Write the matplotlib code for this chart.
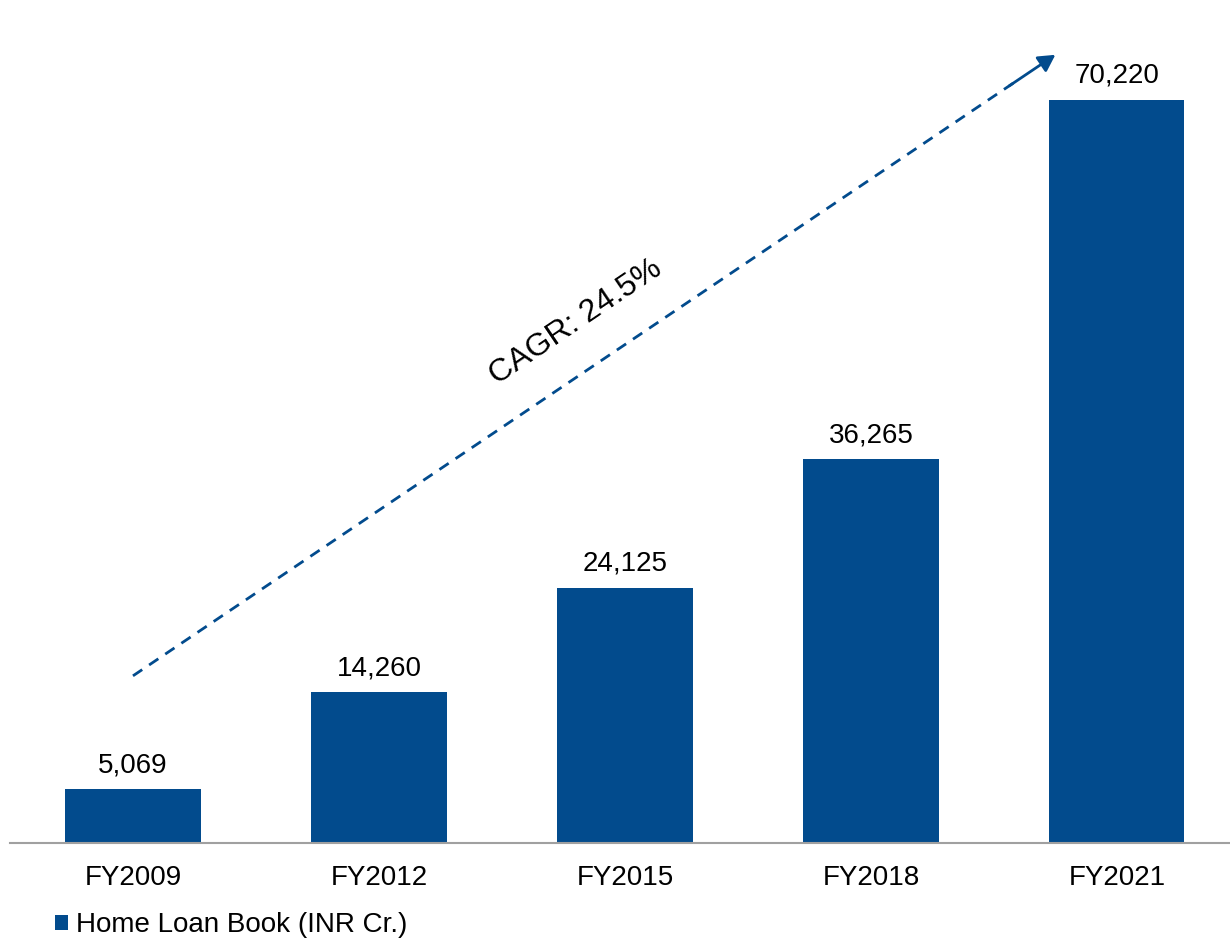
import matplotlib
matplotlib.use("Agg")
import matplotlib.pyplot as plt

plt.rcParams['font.family'] = ['Liberation Sans', 'DejaVu Sans']

years = ['FY2009', 'FY2012', 'FY2015', 'FY2018', 'FY2021']
loan_book = [5069, 14260, 24125, 36265, 70220]
series_name = 'Home Loan Book (INR Cr.)'
cagr_text = 'CAGR: 24.5%'

blue = '#024B8D'

fig = plt.figure(figsize=(12.3, 9.44), dpi=100)
ax = fig.add_axes([10 / 1230, 101 / 944, 1220 / 1230, 843 / 944])

x = list(range(len(years)))
bars = ax.bar(x, loan_book, width=0.55, color=blue, label=series_name, zorder=2)

for xi, v in zip(x, loan_book):
    ax.annotate(f'{v:,}', (xi, v), xytext=(0, 8), textcoords='offset points',
                ha='center', va='bottom', fontsize=20)

ax.set_xlim(-0.5, 4.46)
ax.set_ylim(0, 79680)
ax.set_xticks(x)
ax.set_xticklabels(years, fontsize=20)
ax.tick_params(axis='x', length=0, pad=16)
ax.set_yticks([])
for side in ['left', 'right', 'top']:
    ax.spines[side].set_visible(False)
ax.spines['bottom'].set_color('#a0a0a0')
ax.spines['bottom'].set_linewidth(1.5)

# dashed trend arrow
x0, y0 = 0.0, 15800
x1, y1 = 3.75, 74500
ax.plot([x0, x0 + (x1 - x0) * 0.96], [y0, y0 + (y1 - y0) * 0.96],
        color=blue, lw=2, ls=(0, (4, 3)), zorder=3)
ax.annotate('', xy=(x1, y1), xytext=(x0 + (x1 - x0) * 0.95, y0 + (y1 - y0) * 0.95),
            arrowprops=dict(arrowstyle='-|>,head_length=1.0,head_width=0.55',
                            color=blue, lw=2, shrinkA=0, shrinkB=0), zorder=3)

ax.text(1.80, 49200, cagr_text, rotation=34, rotation_mode='anchor',
        ha='center', va='center', fontsize=23)

fig.legend(handles=[bars], labels=[series_name], loc='center left',
           bbox_to_anchor=(55 / 1230, 1 - 925 / 944), frameon=False, fontsize=20,
           borderaxespad=0, borderpad=0,
           handlelength=0.45, handleheight=0.45, handletextpad=0.3)

fig.savefig('out.png', dpi=100)
